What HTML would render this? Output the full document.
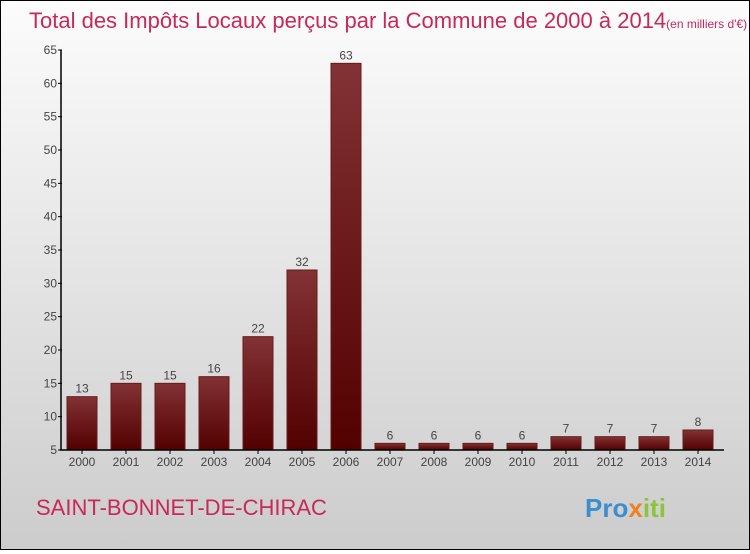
<!DOCTYPE html>
<html><head><meta charset="utf-8"><style>
html,body{margin:0;padding:0}
body{width:750px;height:550px;overflow:hidden;font-family:"Liberation Sans",sans-serif}
#wrap{position:absolute;left:0;top:0;width:748px;height:548px;border:1px solid #000;background:linear-gradient(#fcfcfc,#cccccc)}
</style></head><body>
<div id="wrap">
<svg width="748" height="548" id="svg">
<defs><linearGradient id="bg" x1="0" y1="0" x2="0" y2="1"><stop offset="0" stop-color="#833235"/><stop offset="1" stop-color="#520000"/></linearGradient></defs>
<text x="28" y="27" font-size="22" fill="#c8285a">Total des Impôts Locaux perçus par la Commune de 2000 à 2014<tspan font-size="12">(en milliers d'€)</tspan></text>
<g id="bars"></g><g id="axes"></g>
<text x="35" y="514" font-size="22" fill="#c8285a">SAINT-BONNET-DE-CHIRAC</text>
<text x="584" y="516" font-size="26" font-weight="bold" fill="#3a8fd0">Pro<tspan fill="#f08020">x</tspan><tspan fill="#8cc43c">iti</tspan></text>
</svg></div>
<script>
const years=["2000","2001","2002","2003","2004","2005","2006","2007","2008","2009","2010","2011","2012","2013","2014"];
const values=[13,15,15,16,22,32,63,6,6,6,6,7,7,7,8];
const yTicks=[5,10,15,20,25,30,35,40,45,50,55,60,65];
const NS="http://www.w3.org/2000/svg";
const x0=59,slot=44,yMin=5,yMax=65,yTop=49,yBot=449;
const y=v=>yBot-(v-yMin)/(yMax-yMin)*(yBot-yTop);
const xc=i=>x0+slot/2+i*slot;
function mk(t,a,p){const e=document.createElementNS(NS,t);for(const k in a)e.setAttribute(k,a[k]);p.appendChild(e);return e;}
const bars=document.getElementById('bars'),axes=document.getElementById('axes');
values.forEach((v,i)=>{
 const r=mk('rect',{x:xc(i)-15,y:y(v),width:30,height:yBot-y(v),fill:'url(#bg)',stroke:'#6a1a1c','stroke-width':1},bars);
 
 
 const t=mk('text',{x:xc(i),y:y(v)-4,'text-anchor':'middle','font-size':12,fill:'#444'},bars);
 t.textContent=v;
 
 
 const l=mk('text',{x:xc(i),y:yBot+16,'text-anchor':'middle','font-size':12,fill:'#444'},axes);
 l.textContent=years[i];
 
 
 mk('line',{x1:xc(i),x2:xc(i),y1:yBot,y2:yBot+4,stroke:'#000'},axes);
});
const ya=mk('line',{x1:x0+1,x2:x0+1,y1:yTop,y2:yBot,stroke:'#000','stroke-width':1.5},axes);


const xa=mk('line',{x1:x0,x2:x0+15*slot+4,y1:yBot,y2:yBot,stroke:'#000','stroke-width':1.5},axes);


yTicks.forEach(v=>{
 mk('line',{x1:x0-2,x2:x0+2,y1:y(v),y2:y(v),stroke:'#000'},axes);
 const t=mk('text',{x:x0-3,y:y(v)+4,'text-anchor':'end','font-size':12,fill:'#444'},axes);
 t.textContent=v;
 
 
});
</script>
</body></html>
